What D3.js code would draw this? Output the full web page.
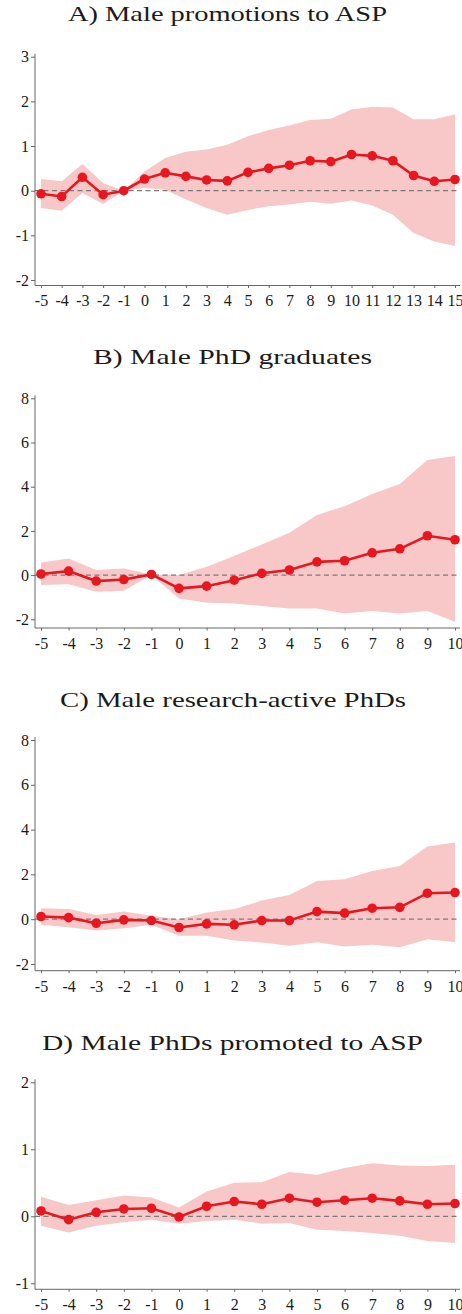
<!DOCTYPE html>
<html>
<head>
<meta charset="utf-8">
<script src="https://cdn.jsdelivr.net/npm/d3@7"></script>
<style>
  html, body { margin: 0; padding: 0; background: #ffffff; }
  svg { display: block; }
  text { font-family: "Liberation Serif", "Times New Roman", serif; fill: #1a1a1a; }
  .tick text { font-size: 16px; }
</style>
</head>
<body>
<svg id="chart" width="462" height="1314"></svg>
<script>
// Event-time periods
const periodsA = d3.range(-5, 16);
const periodsB = d3.range(-5, 11);

// A) Male promotions to ASP
const estA = [-0.07, -0.13, 0.30, -0.09, 0.00, 0.26, 0.40, 0.32, 0.24, 0.22, 0.41, 0.50, 0.57, 0.67, 0.65, 0.81, 0.78, 0.67, 0.34, 0.21, 0.25];
const hiA  = [0.26, 0.21, 0.60, 0.17, 0.00, 0.43, 0.73, 0.87, 0.92, 1.03, 1.22, 1.36, 1.46, 1.58, 1.61, 1.82, 1.88, 1.86, 1.60, 1.60, 1.71];
const loA  = [-0.39, -0.45, -0.05, -0.30, 0.00, 0.06, 0.02, -0.20, -0.39, -0.54, -0.43, -0.35, -0.31, -0.25, -0.29, -0.22, -0.33, -0.54, -0.95, -1.14, -1.24];
const yTicksA = [-2, -1, 0, 1, 2, 3];

// B) Male PhD graduates
const estB = [0.05, 0.18, -0.27, -0.20, 0.03, -0.60, -0.50, -0.23, 0.08, 0.23, 0.60, 0.65, 1.01, 1.19, 1.78, 1.60];
const hiB  = [0.57, 0.75, 0.23, 0.30, 0.03, 0.00, 0.38, 0.86, 1.39, 1.92, 2.72, 3.12, 3.67, 4.12, 5.21, 5.39];
const loB  = [-0.45, -0.41, -0.75, -0.71, 0.00, -1.06, -1.25, -1.28, -1.40, -1.51, -1.51, -1.74, -1.63, -1.74, -1.62, -2.11];
const yTicksB = [-2, 0, 2, 4, 6, 8];

// C) Male research-active PhDs
const estC = [0.12, 0.07, -0.18, -0.03, -0.06, -0.37, -0.21, -0.25, -0.06, -0.06, 0.34, 0.27, 0.49, 0.53, 1.16, 1.19];
const hiC  = [0.49, 0.45, 0.19, 0.34, 0.15, 0.00, 0.30, 0.45, 0.83, 1.08, 1.71, 1.78, 2.15, 2.38, 3.24, 3.42];
const loC  = [-0.25, -0.36, -0.51, -0.40, -0.25, -0.74, -0.74, -0.95, -1.04, -1.19, -1.03, -1.22, -1.14, -1.25, -0.89, -1.03];
const yTicksC = [-2, 0, 2, 4, 6, 8];

// D) Male PhDs promoted to ASP
const estD = [0.08, -0.05, 0.06, 0.11, 0.12, -0.01, 0.15, 0.22, 0.18, 0.27, 0.21, 0.24, 0.27, 0.23, 0.18, 0.19];
const hiD  = [0.29, 0.17, 0.24, 0.31, 0.28, 0.13, 0.37, 0.50, 0.51, 0.66, 0.62, 0.72, 0.79, 0.76, 0.75, 0.77];
const loD  = [-0.14, -0.24, -0.14, -0.09, -0.05, -0.11, -0.07, -0.05, -0.11, -0.10, -0.20, -0.22, -0.25, -0.29, -0.37, -0.40];
const yTicksD = [-1, 0, 1, 2];

const titles = [
  "A) Male promotions to ASP",
  "B) Male PhD graduates",
  "C) Male research-active PhDs",
  "D) Male PhDs promoted to ASP"
];

const panels = [
  { title: titles[0], periods: periodsA, est: estA, lo: loA, hi: hiA, yTicks: yTicksA,
    titleY: 20.5, titleX0: 68, titleW: 319, yTop: 56.7, yBot: 280, axisY: 285.5 },
  { title: titles[1], periods: periodsB, est: estB, lo: loB, hi: hiB, yTicks: yTicksB,
    titleY: 364, titleX0: 93, titleW: 279, yTop: 398.3, yBot: 619.3, axisY: 628 },
  { title: titles[2], periods: periodsB, est: estC, lo: loC, hi: hiC, yTicks: yTicksC,
    titleY: 707, titleX0: 60, titleW: 346, yTop: 740, yBot: 964, axisY: 970.7 },
  { title: titles[3], periods: periodsB, est: estD, lo: loD, hi: hiD, yTicks: yTicksD,
    titleY: 1050, titleX0: 42, titleW: 381, yTop: 1082.3, yBot: 1283.3, axisY: 1289.3 }
];

const svg = d3.select("#chart");
const axisX = 35, plotRight = 460;
const red = "#e8161e", band = "#f8c8c9", axisCol = "#666";
const fmt = d => String(d); // plain hyphen-minus, as in the printed figure

panels.forEach(p => {
  const g = svg.append("g");
  const x = d3.scaleLinear().domain([p.periods[0], p.periods[p.periods.length - 1]]).range([41, 455]);
  const yMin = d3.min(p.yTicks), yMax = d3.max(p.yTicks);
  const y = d3.scaleLinear().domain([yMin, yMax]).range([p.yBot, p.yTop]);

  // panel title
  g.append("text")
    .attr("x", p.titleX0).attr("y", p.titleY)
    .attr("font-size", 21)
    .attr("textLength", p.titleW)
    .attr("lengthAdjust", "spacingAndGlyphs")
    .text(p.title);

  const rows = p.periods.map((t, i) => ({ t, est: p.est[i], lo: p.lo[i], hi: p.hi[i] }));

  // confidence band
  g.append("path").datum(rows)
    .attr("fill", band)
    .attr("d", d3.area().x(d => x(d.t)).y0(d => y(d.lo)).y1(d => y(d.hi)));

  // zero reference
  g.append("line")
    .attr("x1", axisX).attr("x2", plotRight)
    .attr("y1", y(0)).attr("y2", y(0))
    .attr("stroke", "#7a7a7a").attr("stroke-width", 1.3)
    .attr("stroke-dasharray", "5,3.5");

  // y axis
  const yAxis = d3.axisLeft(y).tickValues(p.yTicks).tickSize(4).tickPadding(2).tickFormat(fmt);
  const ya = g.append("g").attr("transform", `translate(${axisX},0)`).call(yAxis);
  ya.select(".domain").remove();
  ya.selectAll(".tick line").attr("stroke", axisCol);
  g.append("line")
    .attr("x1", axisX).attr("x2", axisX)
    .attr("y1", p.yTop - 3).attr("y2", p.axisY)
    .attr("stroke", axisCol).attr("stroke-width", 1);

  // x axis
  const xAxis = d3.axisBottom(x).tickValues(p.periods).tickSize(2.5).tickPadding(7).tickFormat(fmt);
  const xa = g.append("g").attr("transform", `translate(0,${p.axisY})`).call(xAxis);
  xa.select(".domain").remove();
  xa.selectAll(".tick line").attr("stroke", axisCol);
  g.append("line")
    .attr("x1", axisX).attr("x2", plotRight)
    .attr("y1", p.axisY).attr("y2", p.axisY)
    .attr("stroke", axisCol).attr("stroke-width", 1);

  // point estimates
  g.append("path").datum(rows)
    .attr("fill", "none").attr("stroke", red).attr("stroke-width", 2.6)
    .attr("d", d3.line().x(d => x(d.t)).y(d => y(d.est)));
  g.selectAll("circle.pt").data(rows).enter().append("circle")
    .attr("class", "pt")
    .attr("cx", d => x(d.t)).attr("cy", d => y(d.est))
    .attr("r", 4.8).attr("fill", red);
});
</script>
</body>
</html>
